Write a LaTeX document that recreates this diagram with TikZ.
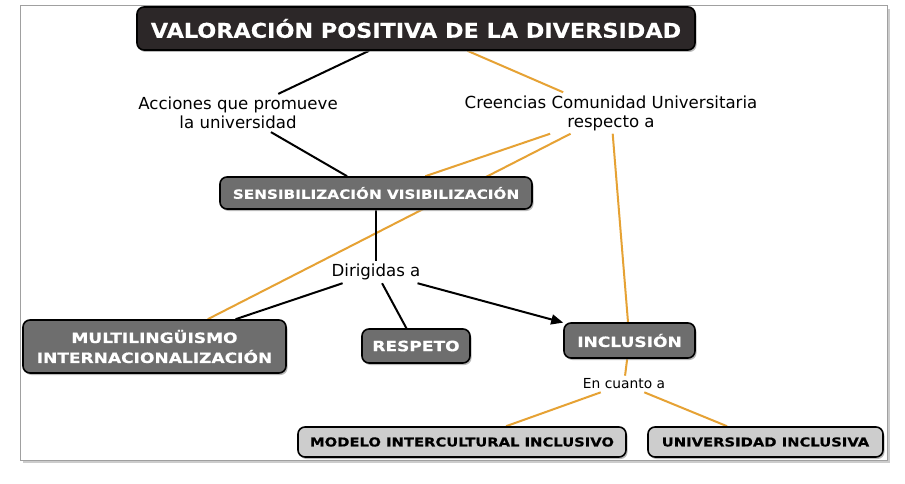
\documentclass[tikz,border=0pt]{standalone}
\usepackage{fontspec}
\setmainfont{DejaVu Sans}
\newfontfamily\boxfont{DejaVu Sans Bold}[FakeStretch=1.2,FakeBold=0.4]
\newfontfamily\titlefont{DejaVu Sans Bold}[FakeStretch=1.1,FakeBold=0.3]
\usetikzlibrary{shadows,arrows.meta}
\definecolor{cOrange}{HTML}{E6A234}
\definecolor{cTitle}{HTML}{2C2728}
\definecolor{cDark}{HTML}{6E6E6E}
\definecolor{cLight}{HTML}{CDCDCD}
\definecolor{cFrame}{HTML}{A0A0A0}
\pgfdeclarelayer{paper}
\pgfdeclarelayer{bg}
\pgfsetlayers{paper,bg,main}
\begin{document}
\begin{tikzpicture}[x=1pt,y=-1pt,
 boxbase/.style={draw=black, line width=1.6pt, rounded corners=7pt, inner sep=0pt, align=center,
   drop shadow={shadow xshift=1.5pt, shadow yshift=-2pt, fill=black!45, opacity=0.6}},
 titlebox/.style={boxbase, fill=cTitle, text=white, font=\titlefont\fontsize{20.3}{24}\selectfont},
 darkbox/.style={boxbase, fill=cDark, text=white, font=\boxfont\fontsize{14.2}{20}\selectfont},
 lightbox/.style={boxbase, fill=cLight, text=black, font=\boxfont\fontsize{12.3}{15}\selectfont},
 lbl/.style={align=center, inner sep=3pt, font=\fontsize{16.6}{19}\selectfont},
 blk/.style={draw=black, line width=2pt},
 org/.style={draw=cOrange, line width=2pt},
]
\useasboundingbox (0,0) rectangle (905,484);
\begin{pgfonlayer}{paper}
\fill[white] (0,0) rectangle (905,484);
\draw[black!20, line width=2pt] (23,462) -- (889,462) -- (889,9);
\draw[cFrame, line width=1pt] (20,6) rectangle (887,460);
\end{pgfonlayer}

\node[titlebox, minimum width=558pt, minimum height=43pt] (title) at (416,28.5) {VALORACIÓN POSITIVA DE LA DIVERSIDAD};
\node[lbl] (acc) at (238,113) {Acciones que promueve\\la universidad};
\node[lbl] (cre) at (611,113) {Creencias Comunidad Universitaria\\respecto a};
\node[darkbox, minimum width=312pt, minimum height=32pt, font=\boxfont\fontsize{12.7}{15}\selectfont] (sens) at (376,193) {SENSIBILIZACIÓN VISIBILIZACIÓN};
\node[lbl] (dir) at (376,272) {Dirigidas a};
\node[darkbox, minimum width=263pt, minimum height=53pt] (multi) at (154.5,346.5) {MULTILINGÜISMO\\INTERNACIONALIZACIÓN};
\node[darkbox, minimum width=108pt, minimum height=34pt] (resp) at (416,346) {RESPETO};
\node[darkbox, minimum width=131pt, minimum height=35pt] (incl) at (629.5,340.5) {INCLUSIÓN};
\node[lbl, font=\fontsize{13.8}{17}\selectfont] (enc) at (624,384) {En cuanto a};
\node[lightbox, minimum width=328pt, minimum height=30pt] (mod) at (462,442) {MODELO INTERCULTURAL INCLUSIVO};
\node[lightbox, minimum width=235pt, minimum height=30pt] (uni) at (765.5,442) {UNIVERSIDAD INCLUSIVA};

\begin{pgfonlayer}{bg}
\draw[blk] (title) -- (acc);
\draw[blk] (acc) -- (sens);
\draw[org] (title) -- (cre);
\draw[org] (cre) -- (sens);
\draw[org] (cre) -- (multi);
\draw[org] (cre) -- (incl);
\draw[blk] (sens) -- (dir);
\draw[blk] (dir) -- (multi);
\draw[blk] (dir) -- (resp);
\draw[blk, -{Triangle[length=12pt,width=10pt]}] (dir) -- (incl);
\draw[org] (incl) -- (enc);
\draw[org] (enc) -- (mod);
\draw[org] (enc) -- (uni);
\end{pgfonlayer}
\end{tikzpicture}
\end{document}
